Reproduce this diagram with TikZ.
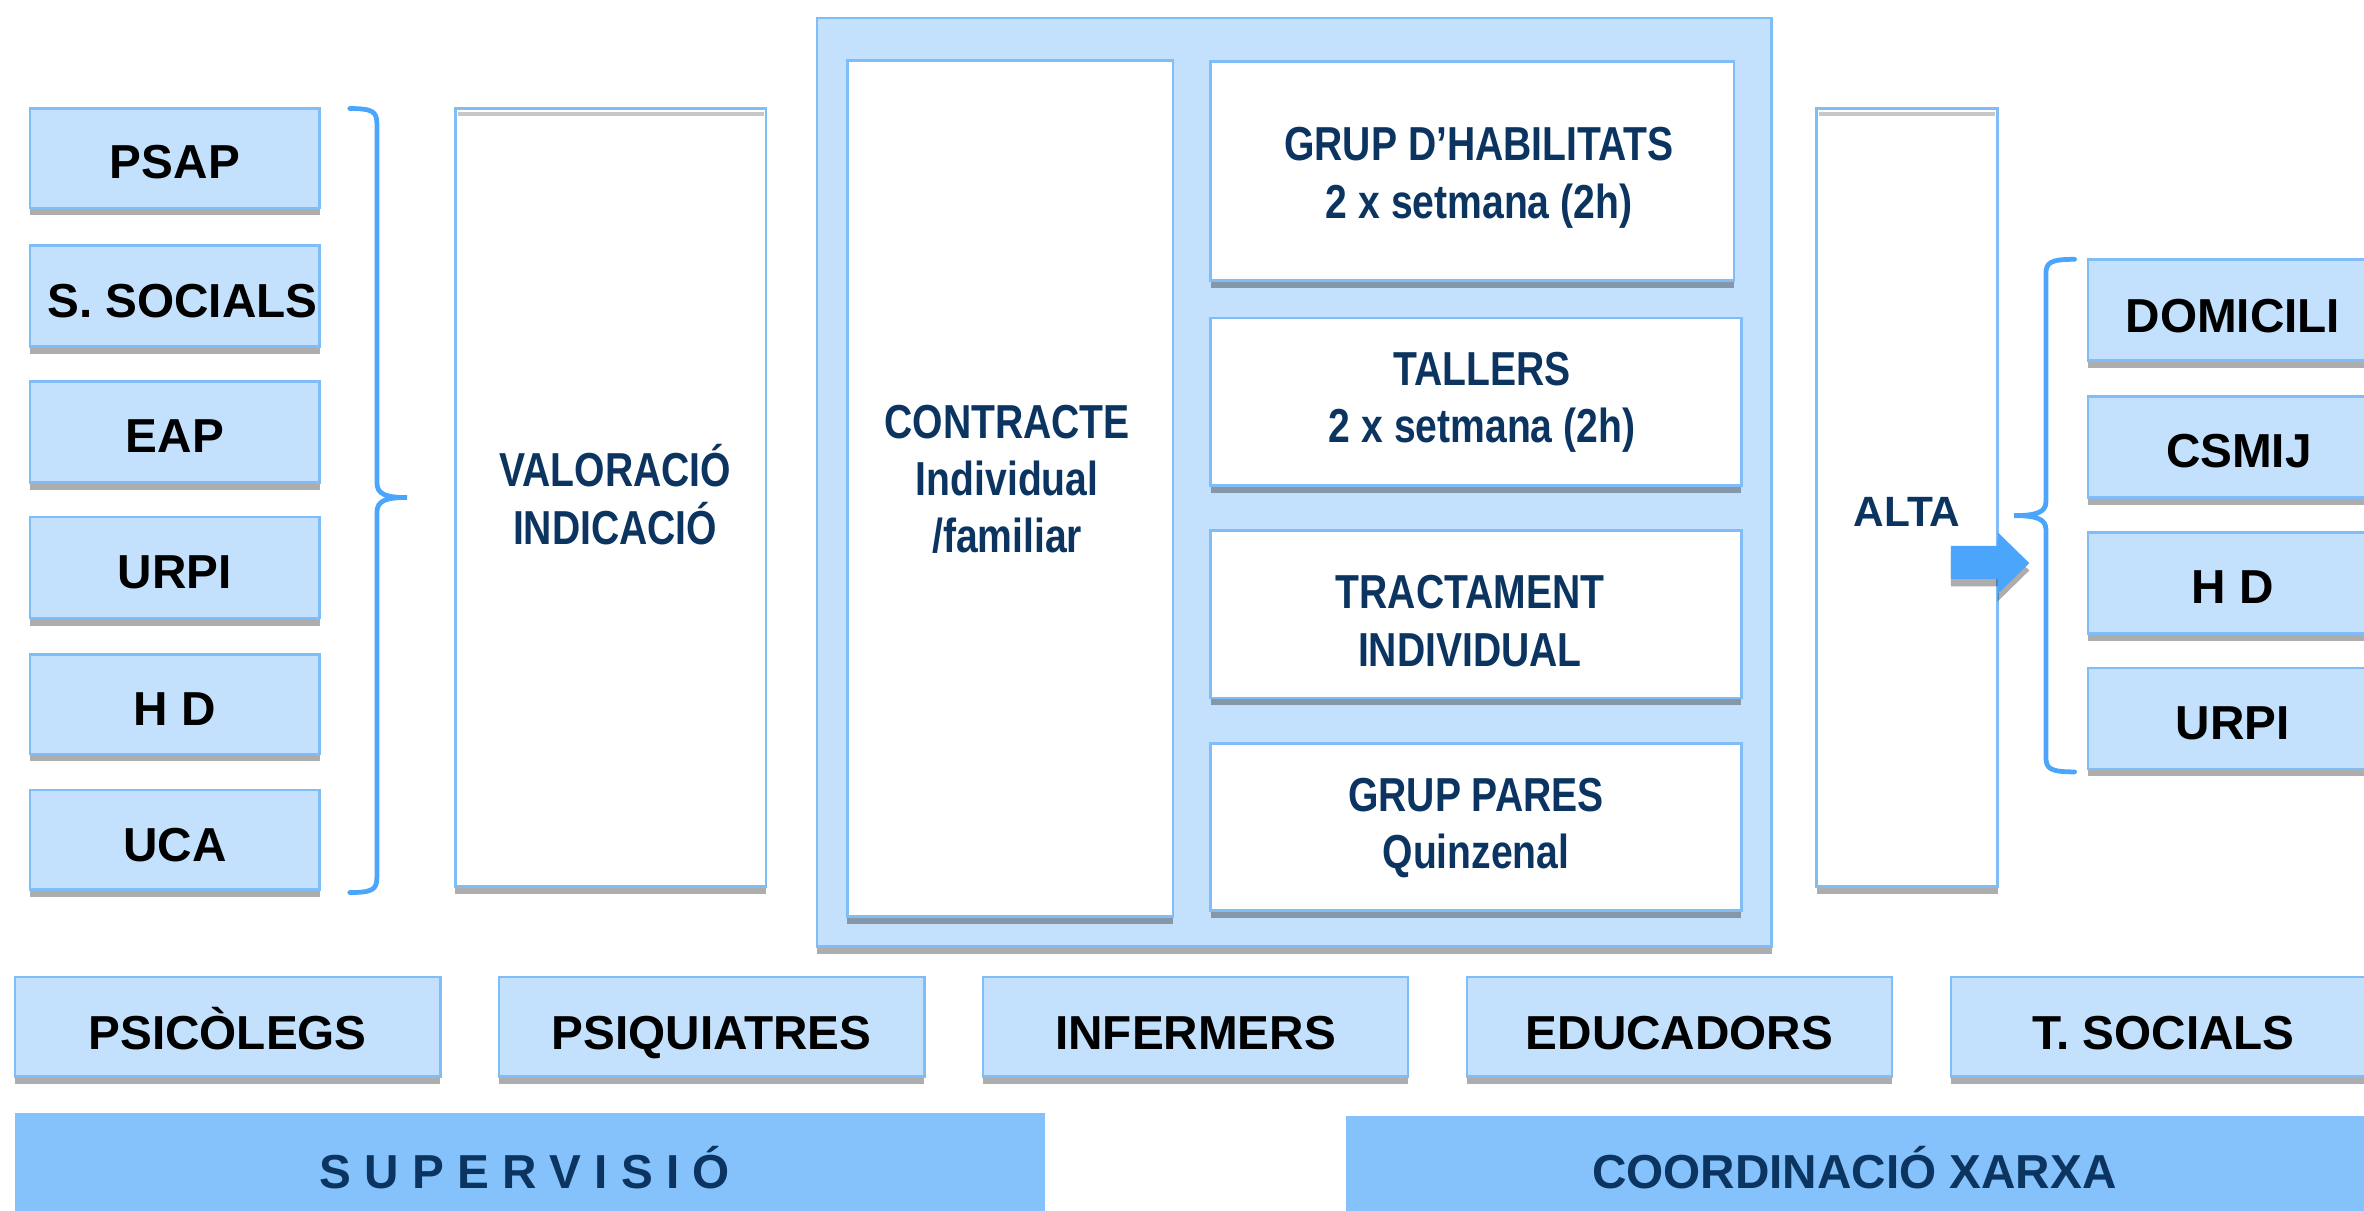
\documentclass[tikz,border=0pt]{standalone}
\usepackage{fontspec}
\setmainfont{Liberation Sans}
\newfontfamily\condfont[FakeStretch=0.82]{Liberation Sans}
\usetikzlibrary{shadows,fit}
\definecolor{boxfill}{HTML}{C3E1FC}
\definecolor{boxline}{HTML}{80BCF6}
\definecolor{barfill}{HTML}{85C1FB}
\definecolor{navy}{HTML}{0B3560}
\definecolor{brace}{HTML}{4BA5FA}
\tikzset{
  sh/.style={drop shadow={shadow xshift=0pt, shadow yshift=-2.8pt, fill=black, opacity=0.32}},
  srcbox/.style={fill=boxfill, draw=boxline, line width=1pt, sh, inner sep=0pt},
  srctxt/.style={text=black, inner sep=0pt, text height=12.9pt, text depth=0pt,
    font=\bfseries\fontsize{18}{21.6}\selectfont},
  whitebox/.style={fill=white, draw=boxline, line width=1pt, sh, inner sep=0pt},
  bigbox/.style={fill=boxfill, draw=boxline, line width=1pt, sh, inner sep=0pt},
  bar/.style={fill=barfill, draw=none, inner sep=0pt},
  navytxt/.style={text=navy, align=center, inner sep=0pt, font=\condfont\bfseries\fontsize{18}{21.6}\selectfont},
  navyplain/.style={text=navy, inner sep=0pt, text height=12.9pt, text depth=0pt,
    font=\bfseries\fontsize{18}{21.6}\selectfont},
  bracepath/.style={draw=brace, line width=1.8pt, line cap=round},
}
\begin{document}
\begin{tikzpicture}[x=0.02cm,y=-0.02cm]
\useasboundingbox (0,0) rectangle (1568,803);
\clip (0,0) rectangle (1568,803);

% left sources
\node[srcbox, fit={(20,72) (212,138)}] (psap) {};
\node[srctxt] (psapt) at (116,107) {PSAP};
\node[srcbox, fit={(20,163) (212,230)}] (ssoc) {};
\node[srctxt] (ssoct) at (121,199) {S. SOCIALS};
\node[srcbox, fit={(20,253) (212,320)}] (eap) {};
\node[srctxt] (eapt) at (116,289) {EAP};
\node[srcbox, fit={(20,343) (212,410)}] (urpiL) {};
\node[srctxt] (urpiLt) at (116,379) {URPI};
\node[srcbox, fit={(20,434) (212,500)}] (hdL) {};
\node[srctxt] (hdLt) at (116,470) {H D};
\node[srcbox, fit={(20,524) (212,590)}] (uca) {};
\node[srctxt] (ucat) at (116,560) {UCA};

% left brace
\draw[bracepath] (232,72) .. controls (247,72) and (250,74) .. (250,82)
  -- (250,320) .. controls (250,328) and (256,330) .. (270,330)
  .. controls (256,330) and (250,332) .. (250,340)
  -- (250,582) .. controls (250,590) and (247,592) .. (232,592);

% valoracio
\node[whitebox, fit={(302,72) (508,588)}] (val) {};
\draw[black!22, line width=1.6pt] (303.5,75.5) -- (506.5,75.5);
\node[navytxt] (valt) at (408,328) {VALORACIÓ\\INDICACIÓ};

% central big box
\node[bigbox, fit={(542,12) (1175,628)}] (big) {};
\node[whitebox, fit={(562,40) (778,608)}] (contr) {};
\node[navytxt] (contrt) at (668,318) {CONTRACTE\\Individual\\/familiar};

\node[whitebox, fit={(803,41) (1150,186)}] (hab) {};
\node[navytxt] (habt) at (981,118) {GRUP D’HABILITATS\\2 x setmana (2h)};
\node[whitebox, fit={(803,211) (1155,322)}] (tall) {};
\node[navytxt] (tallt) at (983,267) {TALLERS\\2 x setmana (2h)};
\node[whitebox, fit={(803,352) (1155,463)}] (tract) {};
\node[navytxt] (tractt) at (975,412) {TRACTAMENT\\INDIVIDUAL};
\node[whitebox, fit={(803,493) (1155,604)}] (pares) {};
\node[navytxt] (parest) at (979,549) {GRUP PARES\\Quinzenal};

% alta
\node[whitebox, fit={(1205,72) (1325,588)}] (alta) {};
\draw[black!22, line width=1.6pt] (1206.5,75.5) -- (1323.5,75.5);
\node[navyplain, text height=11.5pt, font=\bfseries\fontsize{16}{19}\selectfont] (altat) at (1265,339) {ALTA};

% arrow
\fill[brace, sh] (1294,362) -- (1325,362) -- (1325,353) -- (1346,373.5)
  -- (1325,394) -- (1325,384) -- (1294,384) -- cycle;

% right brace
\draw[bracepath] (1376,172) .. controls (1360,172) and (1357,174) .. (1357,182)
  -- (1357,333) .. controls (1357,340) and (1350,342) .. (1336,342)
  .. controls (1350,342) and (1357,344) .. (1357,351)
  -- (1357,502) .. controls (1357,510) and (1360,512) .. (1376,512);

% right destinations
\node[srcbox, fit={(1385,172) (1577,239)}] (dom) {};
\node[srctxt] (domt) at (1481,209) {DOMICILI};
\node[srcbox, fit={(1385,263) (1577,330)}] (csmij) {};
\node[srctxt] (csmijt) at (1485,299) {CSMIJ};
\node[srcbox, fit={(1385,353) (1577,420)}] (hdR) {};
\node[srctxt] (hdRt) at (1481,389) {H D};
\node[srcbox, fit={(1385,443) (1577,510)}] (urpiR) {};
\node[srctxt] (urpiRt) at (1481,479) {URPI};

% professionals
\node[srcbox, fit={(10,648) (292,714)}] (psic) {};
\node[srctxt] (psict) at (151,685) {PSICÒLEGS};
\node[srcbox, fit={(331,648) (613,714)}] (psiq) {};
\node[srctxt] (psiqt) at (472,685) {PSIQUIATRES};
\node[srcbox, fit={(652,648) (934,714)}] (inf) {};
\node[srctxt] (inft) at (793,685) {INFERMERS};
\node[srcbox, fit={(973,648) (1255,714)}] (edu) {};
\node[srctxt] (edut) at (1114,685) {EDUCADORS};
\node[srcbox, fit={(1294,648) (1576,714)}] (tsoc) {};
\node[srctxt] (tsoct) at (1435,685) {T. SOCIALS};

% bottom bars
\node[bar, fit={(10,738) (693,810)}] (sup) {};
\node[navyplain] (supt) at (348,777) {S U P E R V I S I Ó};
\node[bar, fit={(893,740) (1580,810)}] (coord) {};
\node[navyplain] (coordt) at (1230,777) {COORDINACIÓ XARXA};
\end{tikzpicture}
\end{document}
